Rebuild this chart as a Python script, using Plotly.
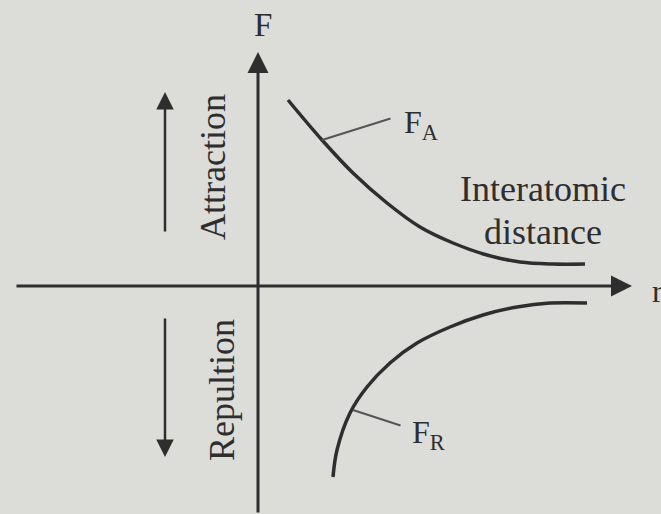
import plotly.graph_objects as go

# attraction curve F_A (r, F)
fa_r = [30, 64, 95, 129, 162, 195, 229, 262, 295, 327]
fa_f = [186, 146, 113, 83, 59, 43, 31, 24, 22, 22]
# repulsion curve F_R (r, F)
fr_r = [75, 79, 92, 109, 132, 159, 192, 225, 259, 292, 329]
fr_f = [-191, -164, -127, -101, -77, -57, -41, -29, -21, -17, -17]

INK = "#2e2e2e"
SERIF = "Liberation Serif, Times New Roman, serif"
BG = "#dcdcd9"

fig = go.Figure()
fig.add_trace(go.Scatter(x=fa_r, y=fa_f, mode="lines", line=dict(color=INK, width=3.5, shape="spline"),
                         hoverinfo="skip", showlegend=False))
fig.add_trace(go.Scatter(x=fr_r, y=fr_f, mode="lines", line=dict(color=INK, width=3.5, shape="spline"),
                         hoverinfo="skip", showlegend=False))


def arrow(x0, y0, x1, y1, head=2, width=3, color=INK, size=1.4):
    fig.add_annotation(x=x1, y=y1, ax=x0, ay=y0, xref="x", yref="y", axref="x", ayref="y",
                       text="", showarrow=True, arrowhead=head, arrowsize=size,
                       arrowwidth=width, arrowcolor=color)


def label(x, y, text, size=33, xanchor="center", angle=0):
    fig.add_annotation(x=x, y=y, xref="x", yref="y", text=text, showarrow=False,
                       xanchor=xanchor, yanchor="middle", textangle=angle,
                       font=dict(family=SERIF, size=size, color=INK))


# axes
arrow(-243, 0, 374, 0)
arrow(0, -228, 0, 234)
# direction arrows
arrow(-93, 53, -93, 194, width=2.5)
arrow(-93, -31, -93, -171, width=2.5)
# leader lines
arrow(134, 168, 64, 146, head=0, width=2, color="#555555")
arrow(144, -140, 95, -124, head=0, width=2, color="#555555")

label(5, 261, "F", size=33)
label(144, 162, "F<sub>A</sub>", size=32, xanchor="left")
label(152, -148, "F<sub>R</sub>", size=32, xanchor="left")
label(285, 97, "Interatomic", size=36)
label(285, 54, "distance", size=36)
label(392, -5, "r", size=32, xanchor="left")
label(-45, 119, "Attraction", size=36, angle=-90)
label(-36, -104, "Repultion", size=36, angle=-90)

fig.update_layout(
    width=661, height=514,
    margin=dict(l=0, r=0, t=0, b=0),
    paper_bgcolor=BG, plot_bgcolor=BG,
    xaxis=dict(range=[-258, 403], visible=False, fixedrange=True),
    yaxis=dict(range=[-228, 286], visible=False, fixedrange=True),
)
fig.write_html("out.html", config={"displayModeBar": False},
               post_script="document.body.style.margin='0px';")
